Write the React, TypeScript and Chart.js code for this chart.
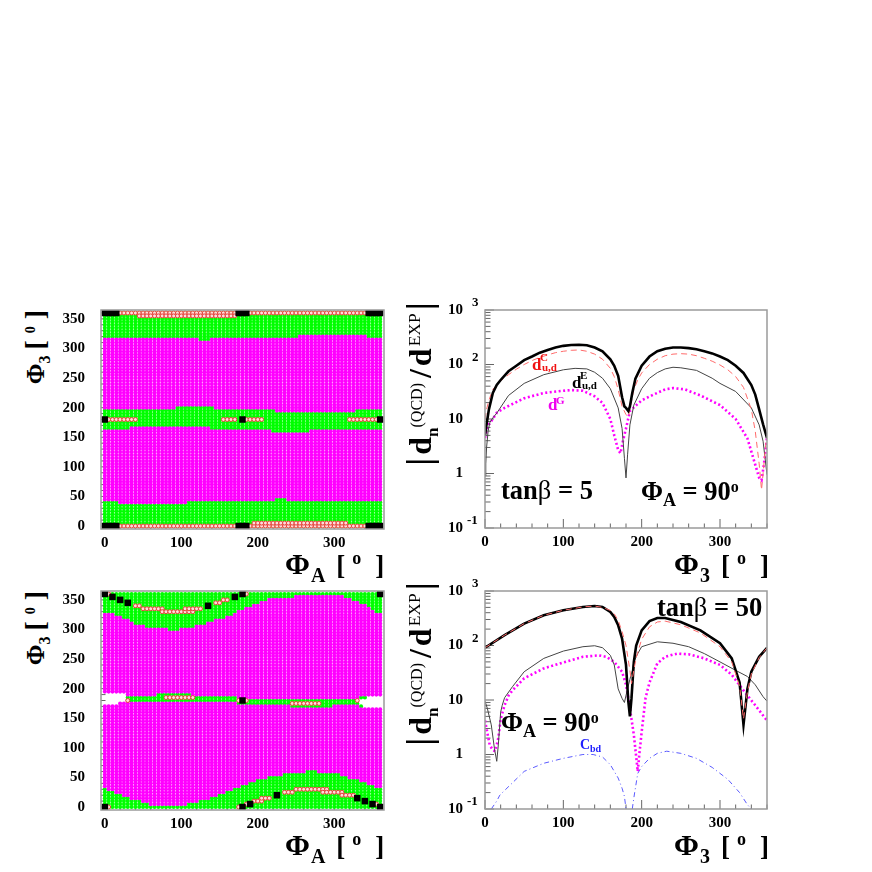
import React, { useEffect, useRef } from "react";
import { Chart, registerables } from "chart.js";

Chart.register(...registerables);

const SERIF = '"Liberation Serif", "Times New Roman", serif';

// ---------- scan panels: 5 degree grid ----------
const gridStep = 5;

// top-left panel (tan beta = 5): magenta band edges, [from phiA, value]
const p1TopHi = [[0, 315], [125, 310], [140, 315], [255, 320], [345, 315]];
const p1TopLo = [[0, 200], [95, 205], [145, 200], [225, 195], [330, 200]];
const p1BotHi = [[0, 160], [35, 165], [140, 160], [220, 155], [270, 160]];
const p1BotLo = [[0, 45], [20, 40], [110, 45], [225, 50], [240, 45]];
// [phi3, from phiA, to phiA]
const p1RedRuns = [
  [360, 20, 170], [360, 190, 340], [355, 45, 170],
  [180, 5, 40], [180, 155, 170], [180, 185, 205], [180, 320, 355],
  [0, 20, 170], [0, 190, 340], [5, 195, 315],
];
const p1BlackRuns = [
  [360, 0, 15], [360, 175, 185], [360, 345, 360],
  [180, 0, 0], [180, 180, 180], [180, 360, 360],
  [0, 0, 15], [0, 175, 185], [0, 345, 360],
];

// bottom-left panel (tan beta = 50): one value per 5 degrees of phiA
const p2TopHi = [
  325, 325, 325, 320, 320, 315, 315, 310, 305, 305, 305, 300, 300, 300, 300, 300, 300, 295, 295,
  295, 300, 300, 300, 300, 305, 305, 305, 310, 310, 315, 315, 315, 320, 320, 325, 330, 330, 335,
  335, 340, 340, 345, 345, 350, 350, 350, 350, 350, 350, 350, 355, 355, 355, 355, 355, 355, 355,
  355, 355, 355, 355, 355, 355, 350, 350, 345, 345, 340, 340, 335, 330, 325, 325,
];
const p2BotLo = [
  35, 30, 30, 25, 25, 20, 20, 15, 15, 15, 10, 10, 5, 5, 5, 5, 5, 5, 5, 5, 5, 5, 10, 10, 10, 15,
  15, 15, 20, 20, 25, 25, 30, 30, 35, 35, 40, 40, 45, 45, 50, 50, 50, 55, 55, 55, 55, 60, 60, 60,
  60, 60, 60, 65, 65, 65, 60, 60, 60, 60, 60, 60, 55, 55, 50, 50, 50, 45, 45, 40, 40, 35, 35,
];
const p2TopLo = [[0, 195], [30, 190], [70, 195], [115, 190], [175, 185], [335, 190]];
const p2BotHi = [[0, 170], [20, 175], [175, 170], [245, 165], [300, 170], [335, 165]];
const p2WhiteRuns = [
  [175, 0, 15], [180, 0, 25], [185, 0, 25], [190, 0, 25],
  [170, 340, 360], [175, 335, 360], [180, 335, 360], [185, 345, 360],
];
const p2RedRuns = [
  [360, 5, 5], [340, 40, 45], [335, 50, 75], [330, 75, 115], [335, 105, 125], [345, 145, 150],
  [350, 155, 160], [360, 185, 185], [185, 80, 115], [175, 245, 280], [180, 30, 30], [180, 175, 175],
  [180, 185, 185], [180, 330, 330], [0, 5, 5], [0, 175, 175], [5, 185, 185], [10, 195, 205],
  [15, 205, 215], [25, 235, 245], [30, 250, 290], [25, 285, 310], [20, 310, 325], [5, 355, 355],
];
const p2BlackRuns = [
  [360, 0, 0], [355, 10, 10], [350, 20, 20], [345, 30, 30], [340, 135, 135], [355, 170, 170],
  [360, 180, 180], [360, 360, 360], [180, 180, 180], [0, 0, 0], [0, 180, 180], [5, 190, 190],
  [20, 225, 225], [15, 330, 330], [10, 340, 340], [5, 350, 350], [0, 360, 360],
];

// ---------- ratio panels: curves ----------
const t5ThickX = [0, 2, 5, 10, 15, 20, 30, 40, 50, 60, 70, 80, 90, 100, 110, 120, 130, 140, 150, 160, 165, 170, 175, 178, 180, 183, 185, 188, 192, 200, 210, 220, 230, 240, 250, 260, 270, 280, 290, 300, 310, 320, 330, 340, 345, 350, 355, 360];
const t5ThickY = [5, 8, 15, 30, 42, 52, 75, 95, 120, 140, 165, 185, 205, 220, 228, 230, 225, 205, 175, 125, 95, 62, 25, 17, 16, 14, 17, 30, 55, 95, 140, 175, 195, 205, 205, 200, 190, 175, 160, 140, 120, 95, 70, 42, 28, 15, 8, 4.5];
const t5RedX = [0, 2, 5, 10, 15, 20, 30, 40, 50, 60, 70, 80, 90, 100, 110, 120, 130, 140, 150, 160, 165, 170, 175, 180, 183, 185, 190, 195, 200, 210, 220, 230, 240, 250, 260, 270, 280, 290, 300, 310, 320, 330, 340, 345, 350, 353, 355, 358, 360];
const t5RedY = [10, 15, 22, 35, 42, 50, 65, 82, 100, 118, 135, 150, 165, 175, 182, 185, 175, 155, 125, 85, 60, 35, 17, 12, 11, 15, 35, 52, 70, 100, 125, 145, 155, 158, 155, 145, 130, 115, 98, 80, 60, 38, 15, 6, 1.5, 0.5, 1, 3, 5];
const t5ThinX = [0, 1, 2, 4, 6, 10, 15, 30, 50, 75, 100, 115, 130, 140, 150, 160, 170, 175, 178, 180, 182, 185, 190, 200, 210, 220, 230, 240, 250, 270, 290, 300, 320, 340, 350, 355, 360];
const t5ThinY = [0.9, 1.5, 3, 6, 8.5, 10.5, 12.8, 27, 45, 65, 80, 85, 83, 72, 56, 36, 16, 6.7, 1.9, 0.83, 2.2, 7.8, 18, 36, 56, 71, 83, 89, 87, 78, 56, 45, 32, 16, 7.8, 3.9, 0.95];
const t5GluX = [0, 3, 5, 10, 15, 25, 50, 75, 100, 110, 125, 140, 150, 160, 165, 170, 173, 176, 180, 185, 195, 200, 215, 230, 240, 255, 275, 300, 320, 335, 345, 350, 353, 356, 358, 360];
const t5GluY = [4.5, 7, 8, 10, 13, 16, 24, 30, 33, 34, 33, 26, 19.7, 10, 5, 2.7, 2.35, 3.9, 6.7, 14, 19, 22, 28, 35, 37, 35, 27, 18, 10, 4.4, 1.45, 0.83, 0.75, 1.45, 2.5, 4.7];

const t50ThickX = [0, 25, 50, 75, 100, 125, 140, 150, 160, 165, 170, 175, 180, 183, 185, 187, 190, 193, 200, 210, 220, 230, 250, 275, 300, 315, 325, 330, 335, 340, 350, 360];
const t50ThickY = [91, 155, 252, 358, 443, 510, 530, 510, 413, 335, 235, 133, 44, 9.3, 5, 10.7, 50, 100, 190, 280, 320, 320, 270, 190, 110, 58, 21, 3.5, 16, 33, 62, 91];
const t50RedX = [0, 25, 50, 75, 100, 125, 140, 150, 160, 165, 170, 175, 180, 185, 187, 190, 193, 200, 210, 220, 230, 250, 275, 300, 315, 325, 330, 335, 340, 350, 360];
const t50RedY = [91, 155, 252, 358, 443, 510, 530, 500, 440, 380, 290, 180, 100, 35, 20, 35, 60, 130, 220, 270, 280, 240, 170, 95, 50, 18, 4.5, 14, 30, 60, 91];
const t50ThinX = [0, 3, 8, 12, 15, 17, 20, 22, 25, 35, 50, 75, 100, 125, 140, 150, 160, 165, 170, 175, 178, 181, 185, 188, 190, 195, 200, 220, 240, 260, 280, 300, 320, 335, 345, 355, 360];
const t50ThinY = [9.5, 7, 3.5, 1.3, 0.75, 1.5, 6, 8, 11, 17.5, 33, 58, 79, 95, 99, 91, 66, 44, 16, 10.7, 9, 14, 24, 35, 50, 71, 95, 117, 110, 95, 71, 50, 35, 27, 19, 11.5, 9.5];
const t50GluX = [0, 3, 6, 10, 13, 17, 20, 25, 30, 35, 50, 75, 100, 125, 145, 155, 165, 175, 180, 185, 190, 195, 197, 200, 205, 210, 220, 230, 245, 260, 280, 300, 315, 330, 345, 355, 360];
const t50GluY = [4.2, 2.5, 1.5, 1.2, 1.15, 2, 4.5, 8, 12, 15, 25, 38, 49, 62, 66, 62, 50, 33, 19, 7, 2.3, 0.49, 1, 2.6, 11, 21, 47, 62, 71, 69, 58, 44, 29, 15, 8, 5.2, 4.2];
const t50BlueX = [8, 15, 19, 50, 75, 100, 125, 138, 150, 160, 170, 175, 178, 180, 184, 188, 190, 195, 200, 210, 220, 232, 250, 270, 290, 310, 325, 335, 340];
const t50BlueY = [0.1, 0.14, 0.18, 0.49, 0.69, 0.85, 1, 1, 0.9, 0.65, 0.37, 0.24, 0.17, 0.1, null, 0.1, 0.16, 0.45, 0.6, 0.85, 1.05, 1.15, 1.05, 0.85, 0.58, 0.35, 0.2, 0.12, 0.1];

const scanXLabels = [0, 100, 200, 300];
const scanYLabels = [0, 50, 100, 150, 200, 250, 300, 350];
const decades = [
  [1000, "10", "3"],
  [100, "10", "2"],
  [10, "10", ""],
  [1, "1", ""],
  [0.1, "10", "-1"],
];

// ---------- helpers ----------
const stepAt = (steps: number[][], x: number) => {
  let v = steps[0][1];
  for (const [from, val] of steps) if (x >= from) v = val;
  return v;
};
const expand = (runs: number[][]) => {
  const out: { x: number; y: number }[] = [];
  for (const [y, a, b] of runs) for (let x = a; x <= b; x += gridStep) out.push({ x, y });
  return out;
};
const zip = (xs: number[], ys: (number | null)[]) => xs.map((x, i) => ({ x, y: ys[i] }));

function buildCells(
  topHi: (x: number) => number,
  topLo: (x: number) => number,
  botHi: (x: number) => number,
  botLo: (x: number) => number,
  white: { x: number; y: number }[]
) {
  const hole = new Set(white.map((p) => p.x + ":" + p.y));
  const green: { x: number; y: number }[] = [];
  const magenta: { x: number; y: number }[] = [];
  for (let x = 0; x <= 360; x += gridStep) {
    for (let y = 0; y <= 360; y += gridStep) {
      if (hole.has(x + ":" + y)) continue;
      const inBand = (y >= topLo(x) && y <= topHi(x)) || (y >= botLo(x) && y <= botHi(x));
      (inBand ? magenta : green).push({ x, y });
    }
  }
  return { green, magenta };
}

const framePlugin = {
  id: "rootFrame",
  beforeDatasetsDraw(chart: any) {
    const o = chart.options.plugins.rootFrame;
    const { ctx, chartArea: a, scales } = chart;
    ctx.save();
    ctx.strokeStyle = "#666";
    ctx.lineWidth = 1;
    ctx.beginPath();
    for (const [v, len] of o.xTicks) {
      const p = scales.x.getPixelForValue(v);
      ctx.moveTo(p, a.bottom);
      ctx.lineTo(p, a.bottom - len);
    }
    for (const [v, len] of o.yTicks) {
      const p = scales.y.getPixelForValue(v);
      ctx.moveTo(a.left, p);
      ctx.lineTo(a.left + len, p);
    }
    ctx.stroke();
    ctx.restore();
  },
  afterDatasetsDraw(chart: any) {
    const o = chart.options.plugins.rootFrame;
    const { ctx, chartArea: a, scales } = chart;
    ctx.save();
    ctx.strokeStyle = "#9a9a9a";
    ctx.lineWidth = 1.5;
    ctx.strokeRect(a.left, a.top, a.right - a.left, a.bottom - a.top);
    if (o.log) {
      ctx.fillStyle = "#000";
      ctx.font = `bold 13px ${SERIF}`;
      ctx.textAlign = "left";
      ctx.textBaseline = "middle";
      for (const [v, , e] of decades) {
        if (!e) continue;
        const p = scales.y.getPixelForValue(v);
        ctx.fillText(e, e === "-1" ? a.left - 18 : a.left - 13, p - 7);
      }
    }
    ctx.restore();
  },
};

function scanTicks(major: number, minor: number) {
  const out: number[][] = [];
  for (let v = 0; v <= 360; v += minor) out.push([v, v % major === 0 ? 9 : 4.5]);
  return out;
}
function logTicks() {
  const out: number[][] = [];
  for (let d = -1; d <= 3; d++) {
    const base = Math.pow(10, d);
    out.push([base, 9]);
    if (d < 3) for (let m = 2; m <= 9; m++) out.push([base * m, 5.5]);
  }
  return out;
}

const boxes = {
  scan: { w: 340, h: 260, left: 46, right: 11, top: 20, bottom: 21 },
  ratio: { w: 375, h: 260, left: 85, right: 8, top: 20, bottom: 22 },
};
const noEdgePadding = (s: any) => {
  s.paddingTop = 0;
  s.paddingBottom = 0;
  s.paddingLeft = 0;
  s.paddingRight = 0;
};

function Panel({ x, y, kind, datasets }: { x: number; y: number; kind: "scan" | "ratio"; datasets: any[] }) {
  const ref = useRef<HTMLCanvasElement>(null);
  useEffect(() => {
    const b = boxes[kind];
    const log = kind === "ratio";
    const chart = new Chart(ref.current as HTMLCanvasElement, {
      type: "scatter",
      data: { datasets },
      plugins: [framePlugin],
      options: {
        animation: false,
        responsive: false,
        events: [],
        layout: { autoPadding: false, padding: { top: b.top, right: b.right, left: 0, bottom: 0 } },
        plugins: {
          legend: { display: false },
          tooltip: { enabled: false },
          rootFrame: log
            ? { log: true, xTicks: scanTicks(100, 20), yTicks: logTicks() }
            : { log: false, xTicks: scanTicks(100, 20), yTicks: scanTicks(50, 10) },
        } as any,
        scales: {
          x: {
            type: "linear",
            min: log ? 0 : -5,
            max: log ? 360 : 365,
            afterFit: (s: any) => { s.height = b.bottom; noEdgePadding(s); },
            grid: { display: false, drawTicks: false },
            border: { display: false },
            ticks: {
              stepSize: 100,
              includeBounds: false,
              maxRotation: 0,
              padding: 5,
              color: "#000",
              font: { family: SERIF, weight: "bold", size: 15 },
              callback: (v: any) => (scanXLabels.includes(v) ? String(v) : ""),
            },
          },
          y: log
            ? {
                type: "logarithmic",
                min: 0.1,
                max: 1000,
                afterFit: (s: any) => { s.width = b.left; noEdgePadding(s); },
                grid: { display: false, drawTicks: false },
                border: { display: false },
                ticks: {
                  autoSkip: false,
                  padding: 22,
                  color: "#000",
                  font: { family: SERIF, weight: "bold", size: 15 },
                  callback: (v: any) => {
                    const d = decades.find((q) => Math.abs(Math.log10(q[0] as number) - Math.log10(v)) < 1e-6);
                    return d ? d[1] : "";
                  },
                },
              }
            : {
                type: "linear",
                min: -5,
                max: 365,
                afterFit: (s: any) => { s.width = b.left; noEdgePadding(s); },
                grid: { display: false, drawTicks: false },
                border: { display: false },
                ticks: {
                  stepSize: 50,
                  includeBounds: false,
                  padding: 16,
                  color: "#000",
                  font: { family: SERIF, weight: "bold", size: 15 },
                  callback: (v: any) => (scanYLabels.includes(v) ? String(v) : ""),
                },
              },
        },
      } as any,
    });
    return () => chart.destroy();
  }, []);
  const b = boxes[kind];
  return (
    <canvas
      ref={ref}
      width={b.w}
      height={b.h}
      style={{ position: "absolute", left: x, top: y, width: b.w, height: b.h, display: "block" }}
    />
  );
}

const scanSets = (green: any[], magenta: any[], red: any[], black: any[]) => [
  { label: "green", data: green, order: 4, pointStyle: "circle", pointRadius: 2.05, pointBorderWidth: 0, backgroundColor: "#00ff00" },
  { label: "magenta", data: magenta, order: 3, pointStyle: "circle", pointRadius: 2.05, pointBorderWidth: 0, backgroundColor: "#ff00ff" },
  { label: "red", data: red, order: 2, pointStyle: "circle", pointRadius: 2, pointBorderWidth: 1, borderColor: "#e8403a", backgroundColor: "#ffdcdc" },
  { label: "black", data: black, order: 1, pointStyle: "rect", pointRadius: 4.6, pointBorderWidth: 0, backgroundColor: "#000" },
];
const curve = (label: string, xs: number[], ys: (number | null)[], color: string, width: number, dash: number[], order: number) => ({
  label,
  data: zip(xs, ys),
  showLine: true,
  pointRadius: 0,
  borderColor: color,
  borderWidth: width,
  borderDash: dash,
  spanGaps: false,
  order,
});

function T({ x, cy, size, color = "#000", weight = "bold", children }: any) {
  return (
    <div
      style={{
        position: "absolute", left: x, top: cy, transform: "translateY(-50%)", fontFamily: SERIF,
        fontSize: size, fontWeight: weight, color, lineHeight: 1, whiteSpace: "nowrap",
      }}
    >
      {children}
    </div>
  );
}
function S({ d = 0, size, children, weight, mx = 0, ml }: any) {
  return (
    <span
      style={{
        position: "relative", top: d, fontSize: size, fontWeight: weight, lineHeight: 0,
        marginLeft: ml !== undefined ? ml : mx, marginRight: mx,
      }}
    >
      {children}
    </span>
  );
}
function R({ cx, cy, size, children, weight = "bold" }: any) {
  return (
    <div
      style={{
        position: "absolute", left: cx, top: cy, transform: "translate(-50%,-50%) rotate(-90deg)", fontFamily: SERIF,
        fontSize: size, fontWeight: weight, lineHeight: 1, whiteSpace: "nowrap", color: "#000",
      }}
    >
      {children}
    </div>
  );
}

const AxisX = ({ x, cy, sub }: any) => (
  <T x={x} cy={cy} size={30}>
    Φ<S d={8} size={20} ml={1}>{sub}</S>
    <S size={27} ml={11}>[</S>
    <S d={-10} size={18} ml={7}>o</S>
    <S size={27} ml={14}>]</S>
  </T>
);
const YScan = ({ cy }: any) => (
  <R cx={35} cy={cy} size={25}>
    Φ<S d={6} size={16}>3</S>
    <S size={28} ml={6}>[</S>
    <S d={-9} size={14} ml={7}>0</S>
    <S size={28} ml={7}>]</S>
  </R>
);
const YRatio = ({ cy }: any) => (
  <R cx={420} cy={cy} size={32}>
    <S size={36}>|</S>
    <S ml={3}>d</S>
    <S d={7} size={17}>n</S>
    <S d={-9} size={16} weight="normal">(QCD)</S>
    <S ml={5}>/</S>
    <S ml={3}>d</S>
    <S d={-11} size={17.5} weight="normal" ml={2}>EXP</S>
    <S size={36} ml={3}>|</S>
  </R>
);

export default function App() {
  const p1 = buildCells(
    (x) => stepAt(p1TopHi, x), (x) => stepAt(p1TopLo, x), (x) => stepAt(p1BotHi, x), (x) => stepAt(p1BotLo, x), []
  );
  const p2 = buildCells(
    (x) => p2TopHi[x / gridStep], (x) => stepAt(p2TopLo, x), (x) => stepAt(p2BotHi, x), (x) => p2BotLo[x / gridStep], expand(p2WhiteRuns)
  );
  return (
    <div style={{ position: "absolute", left: 0, top: 0, width: 872, height: 872, overflow: "hidden", background: "#fff" }}>
      <Panel x={55} y={290} kind="scan" datasets={scanSets(p1.green, p1.magenta, expand(p1RedRuns), expand(p1BlackRuns))} />
      <Panel x={55} y={571} kind="scan" datasets={scanSets(p2.green, p2.magenta, expand(p2RedRuns), expand(p2BlackRuns))} />
      <Panel
        x={400}
        y={290}
        kind="ratio"
        datasets={[
          curve("thick", t5ThickX, t5ThickY, "#000", 2.6, [], 1),
          curve("C", t5RedX, t5RedY, "#ff6a6a", 1, [6, 4], 2),
          curve("E", t5ThinX, t5ThinY, "#444", 1, [], 3),
          curve("G", t5GluX, t5GluY, "#ff00ff", 2.6, [2, 2.5], 4),
        ]}
      />
      <Panel
        x={400}
        y={571}
        kind="ratio"
        datasets={[
          curve("thick", t50ThickX, t50ThickY, "#000", 2.6, [], 2),
          curve("C", t50RedX, t50RedY, "#ff6a6a", 1, [6, 4], 1),
          curve("E", t50ThinX, t50ThinY, "#444", 1, [], 3),
          curve("G", t50GluX, t50GluY, "#ff00ff", 2.6, [2, 2.5], 4),
          curve("Cbd", t50BlueX, t50BlueY, "#5a5aff", 1, [5, 3, 1, 3], 5),
        ]}
      />

      <YScan cy={347} />
      <YScan cy={628} />
      <AxisX x={285} cy={564} sub="A" />
      <AxisX x={285} cy={845} sub="A" />
      <YRatio cy={384} />
      <YRatio cy={664} />
      <AxisX x={674} cy={564} sub="3" />
      <AxisX x={674} cy={845} sub="3" />

      <T x={532} cy={364} size={17} color="#f01010">d</T>
      <T x={540} cy={357} size={11} color="#f01010">C</T>
      <T x={542} cy={367} size={11} color="#f01010">u,d</T>
      <T x={572} cy={382} size={17}>d</T>
      <T x={580} cy={375} size={11}>E</T>
      <T x={582} cy={385} size={11}>u,d</T>
      <T x={548} cy={404} size={17} color="#f000f0">d</T>
      <T x={556} cy={400} size={11} color="#f000f0">G</T>

      <T x={501} cy={490} size={26.5}>tan<span style={{ fontWeight: "normal" }}>β</span> = 5</T>
      <T x={641} cy={491} size={26.5}>Φ<S d={6} size={18}>A</S> = 90<S d={-8} size={16}>o</S></T>
      <T x={657} cy={607} size={26.5}>tan<span style={{ fontWeight: "normal" }}>β</span> = 50</T>
      <T x={501} cy={722} size={26.5}>Φ<S d={6} size={18}>A</S> = 90<S d={-8} size={16}>o</S></T>
      <T x={580} cy={745} size={14} color="#2020ff">C</T>
      <T x={590} cy={749} size={10} color="#2020ff">bd</T>
    </div>
  );
}
